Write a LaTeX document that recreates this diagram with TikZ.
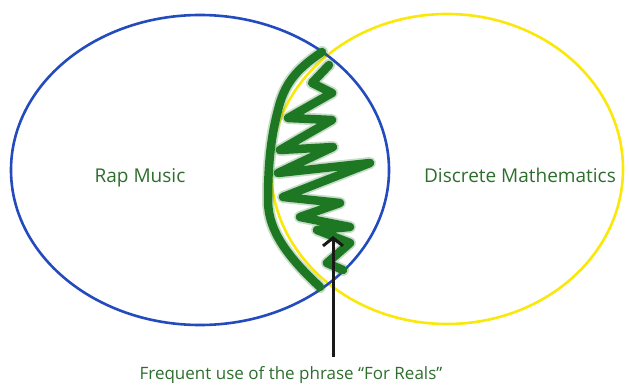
\documentclass[tikz,border=0pt]{standalone}
\usepackage{fontspec}
\setmainfont{Open Sans}
\usetikzlibrary{arrows.meta,shapes.geometric}
\definecolor{setblue}{RGB}{35,75,190}
\definecolor{setyellow}{RGB}{250,232,10}
\definecolor{scribblegreen}{RGB}{30,120,35}
\definecolor{labelgreen}{RGB}{45,110,45}

\begin{document}
\begin{tikzpicture}[
  x=1pt, y=-1pt,
  setshape/.style={ellipse, draw, line width=2.6pt, inner sep=0pt},
  setlabel/.style={text=labelgreen, font=\fontsize{19}{22}\selectfont},
  scribble/.style={draw=scribblegreen, line width=8.5pt, line cap=round, line join=round},
  haze/.style={draw=scribblegreen, line width=12pt, line cap=round, line join=round, opacity=0.25},
  pointer/.style={-{Straight Barb[length=8pt,width=20pt,line width=3pt]}, line width=3pt, draw=black!90}
]
\useasboundingbox (0,0) rectangle (629,385);

% the two sets
\node[setshape, draw=setyellow, minimum width=352pt, minimum height=310pt] (mathset) at (447,169) {};
\node[setshape, draw=setblue, minimum width=378pt, minimum height=310pt] (rapset) at (200,170) {};

\node[setlabel] (rap) at (140,178) {Rap Music};
\node[setlabel] (discrete) at (520,175) {Discrete Mathematics};

% the overlap, scribbled in
\foreach \s in {haze,scribble}{
  \draw[\s] (322,52) .. controls (295,70) and (284,85) .. (278,110)
    .. controls (270,140) and (268,170) .. (268,200)
    .. controls (268,225) and (280,250) .. (320,287);
  \draw[\s] (329,65) -- (312,83) -- (332,93) -- (288,118) -- (332,120)
    -- (280,150) -- (333,147) -- (278,173) -- (370,163) -- (283,197)
    -- (340,203) -- (300,217) -- (350,227) -- (317,230) -- (350,243)
    -- (327,263) -- (343,270);
}

\node[setlabel, font=\fontsize{17}{20}\selectfont] (phrase) at (291,375) {Frequent use of the phrase “For Reals”};
\coordinate (tip) at (333,236);
\draw[pointer] ([yshift=6pt]phrase.north -| tip) -- (tip);

\end{tikzpicture}
\end{document}
